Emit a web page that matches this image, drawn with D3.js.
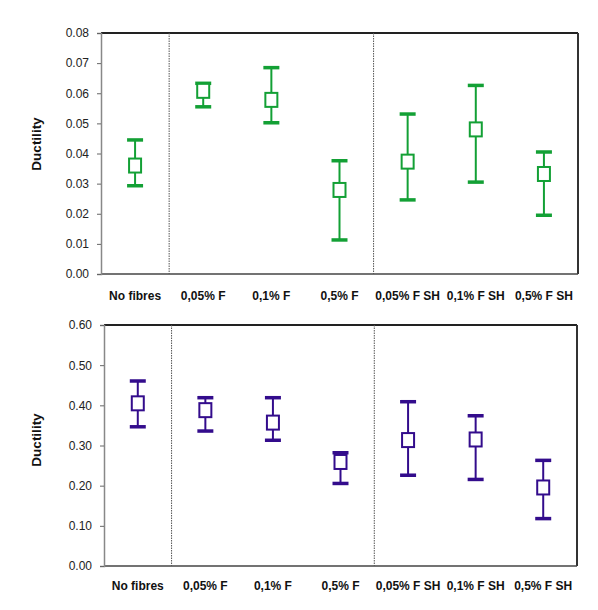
<!DOCTYPE html>
<html><head><meta charset="utf-8">
<script src="https://cdn.jsdelivr.net/npm/d3@7"></script>
<style>
body{margin:0;background:#fff;}
text{font-family:"Liberation Sans Narrow","Arial Narrow","Liberation Sans",Arial,sans-serif;}
</style></head>
<body><svg id="c" width="598" height="610"></svg>
<script>
const categories = ["No fibres","0,05% F","0,1% F","0,5% F","0,05% F SH","0,1% F SH","0,5% F SH"];
const topMean  = [0.036, 0.0608, 0.0578, 0.0279, 0.0373, 0.048, 0.0332];
const topUpper = [0.0445, 0.0633, 0.0685, 0.0376, 0.0531, 0.0626, 0.0405];
const topLower = [0.0293, 0.0555, 0.0502, 0.0113, 0.0246, 0.0305, 0.0195];
const topTicks = [0,0.01,0.02,0.03,0.04,0.05,0.06,0.07,0.08];
const botMean  = [0.405, 0.388, 0.357, 0.259, 0.3135, 0.315, 0.1955];
const botUpper = [0.4606, 0.419, 0.419, 0.282, 0.409, 0.374, 0.263];
const botLower = [0.3466, 0.336, 0.313, 0.2055, 0.226, 0.2155, 0.118];
const botTicks = [0,0.1,0.2,0.3,0.4,0.5,0.6];
const separators = [1, 4];

const svg = d3.select("#c");

function panel(cfg){
  const g = svg.append("g");
  const x = d3.scaleBand().domain(categories).range([cfg.left, cfg.right]);
  const y = d3.scaleLinear().domain([0, cfg.max]).range([cfg.bottom, cfg.top]);
  // frame
  g.append("line").attr("x1",cfg.left).attr("x2",cfg.right).attr("y1",cfg.top).attr("y2",cfg.top).attr("stroke","#222").attr("stroke-width",2);
  g.append("line").attr("x1",cfg.right).attr("x2",cfg.right).attr("y1",cfg.top).attr("y2",cfg.bottom).attr("stroke","#333").attr("stroke-width",2);
  g.append("line").attr("x1",cfg.left).attr("x2",cfg.right).attr("y1",cfg.bottom).attr("y2",cfg.bottom).attr("stroke","#444").attr("stroke-width",1.5);
  // separators
  separators.forEach(i=>{
    const sx = x(categories[i]);
    g.append("line").attr("x1",sx).attr("x2",sx).attr("y1",cfg.top).attr("y2",cfg.bottom)
      .attr("stroke","#555").attr("stroke-width",1).attr("stroke-dasharray","1.5,1");
  });
  // y axis
  const ax = g.append("g").attr("transform",`translate(${cfg.left},0)`)
    .call(d3.axisLeft(y).tickValues(cfg.ticks).tickFormat(d3.format(".2f")).tickSize(4).tickPadding(8));
  ax.select(".domain").attr("stroke","#888").attr("stroke-width",1.5);
  ax.selectAll(".tick line").attr("stroke","#666");
  ax.selectAll("text").attr("font-size",12).attr("fill","#222").attr("font-family",'"Liberation Sans Narrow","Arial Narrow",Arial,sans-serif');
  // x labels
  g.selectAll(".xl").data(categories).enter().append("text")
    .attr("x",d=>x(d)+x.bandwidth()/2).attr("y",cfg.labelY)
    .attr("text-anchor","middle").attr("font-size",12).attr("font-weight","bold").attr("fill","#111")
    .text(d=>d);
  // y title
  g.append("text").attr("transform",`translate(${cfg.titleX},${cfg.titleY}) rotate(-90)`)
    .attr("text-anchor","middle").attr("font-size",13.5).attr("font-weight","bold").attr("fill","#111")
    .attr("font-family",'"Liberation Sans",Arial,sans-serif').text("Ductility");
  // error bars
  const cx = i => x(categories[i]) + x.bandwidth()/2;
  const idx = d3.range(categories.length);
  g.selectAll(".wh").data(idx).enter().append("line")
    .attr("x1",cx).attr("x2",cx).attr("y1",i=>y(cfg.upper[i])).attr("y2",i=>y(cfg.lower[i]))
    .attr("stroke",cfg.color).attr("stroke-width",2);
  [cfg.upper, cfg.lower].forEach(arr=>{
    g.selectAll(null).data(idx).enter().append("line")
      .attr("x1",i=>cx(i)-8).attr("x2",i=>cx(i)+8).attr("y1",i=>y(arr[i])).attr("y2",i=>y(arr[i]))
      .attr("stroke",cfg.color).attr("stroke-width",3.5);
  });
  g.selectAll(".mk").data(idx).enter().append("rect")
    .attr("x",i=>cx(i)-6).attr("y",i=>y(cfg.mean[i])-7).attr("width",12).attr("height",14)
    .attr("fill","#fff").attr("stroke",cfg.color).attr("stroke-width",2);
}

panel({left:101,right:578,top:33,bottom:274,max:0.08,ticks:topTicks,mean:topMean,upper:topUpper,lower:topLower,color:"#13a035",labelY:300,titleX:41,titleY:144});
panel({left:104,right:577,top:325,bottom:566,max:0.6,ticks:botTicks,mean:botMean,upper:botUpper,lower:botLower,color:"#330c8c",labelY:590,titleX:41,titleY:440});
</script></body></html>
